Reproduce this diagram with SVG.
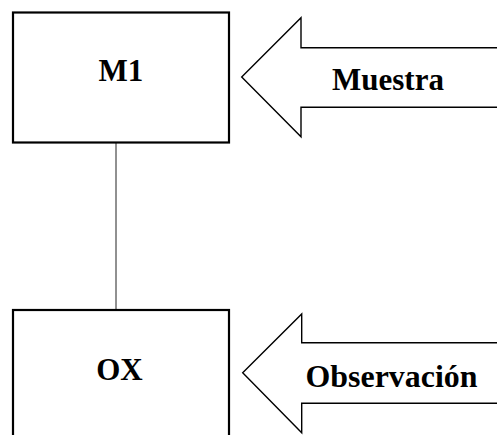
<svg xmlns="http://www.w3.org/2000/svg" width="497" height="435" viewBox="0 0 497 435">
<style>
.box{fill:#fff;stroke:#000;stroke-width:2.2}
.arrow{fill:#fff;stroke:#000;stroke-width:1.4;stroke-linejoin:miter}
.lbl{font-family:"Liberation Serif","Times New Roman",serif;font-weight:bold;font-size:31px;fill:#000;text-anchor:middle}
.conn{stroke:#222;stroke-width:1;fill:none}
</style>
<rect width="497" height="435" fill="#fff"/>
<g id="connectors">
<line class="conn" x1="116" y1="143" x2="116" y2="310"/>
</g>
<g id="m1">
<rect class="box" x="13" y="12.5" width="216" height="130"/>
<text class="lbl" x="121" y="81">M1</text>
</g>
<g id="ox">
<rect class="box" x="13" y="310" width="216" height="140"/>
<text class="lbl" x="119.5" y="380">OX</text>
</g>
<g id="muestra">
<path class="arrow" d="M500,47.7 H301 V17.7 L241.7,77 L301,136.7 V107.3 H500"/>
<text class="lbl" x="388" y="90">Muestra</text>
</g>
<g id="observacion">
<path class="arrow" d="M500,342.7 H301.7 V314 L242.7,372.7 L301.7,432.7 V403.3 H500"/>
<text class="lbl" x="391.5" y="387" textLength="172" lengthAdjust="spacingAndGlyphs">Observación</text>
</g>
</svg>
